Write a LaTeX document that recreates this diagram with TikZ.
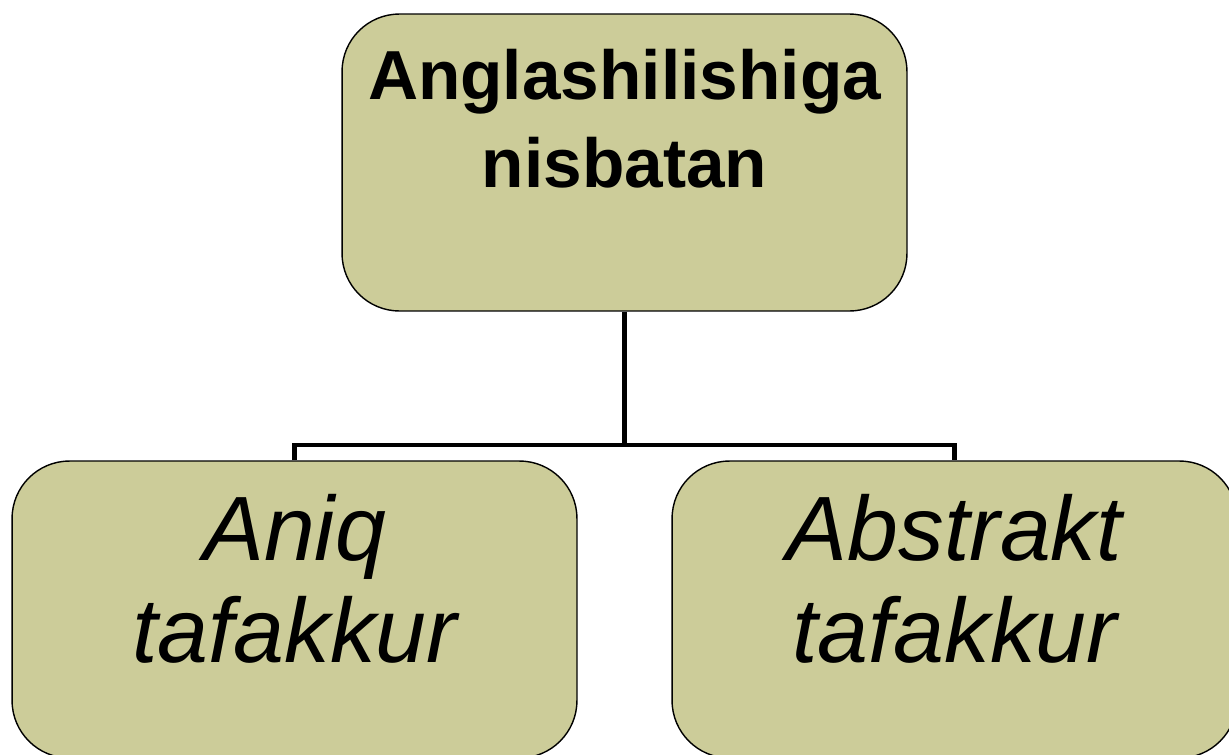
\documentclass[tikz,border=0pt]{standalone}
\usepackage{fontspec}
\setmainfont{Liberation Sans}
\definecolor{boxfill}{RGB}{204,204,153}
\tikzset{
  box/.style={draw=black, line width=0.8pt, fill=boxfill, rounded corners=1.15cm,
              minimum width=11.3cm, minimum height=5.94cm, inner sep=0pt},
  toptext/.style={font=\fontsize{39.5}{50}\selectfont\bfseries, align=center, inner sep=0pt, anchor=north},
  subtext/.style={font=\fontsize{52}{58}\selectfont\itshape, align=center, inner sep=0pt, anchor=north},
  link/.style={line width=2.3pt}
}
\begin{document}
\begin{tikzpicture}[x=0.02cm,y=-0.02cm]
\useasboundingbox (0,0) rectangle (1229,754);

% boxes
\node[box] (top) at (624.5,162.5) {};
\node[box] (left) at (294.5,609.5) {};
\node[box] (right) at (954.5,609.5) {};

% texts
\node[toptext] (toplabel) at (624.5,49) {Anglashilishiga\\nisbatan};
\node[subtext] (leftlabel) at (294.5,494) {Aniq\\tafakkur};
\node[subtext] (rightlabel) at (954.5,494) {Abstrakt\\tafakkur};

% connectors
\coordinate (split) at (624.5,445);
\draw[link] (top.south) -- (split);
\draw[link] (left.north) |- (split) -| (right.north);

\end{tikzpicture}
\end{document}
